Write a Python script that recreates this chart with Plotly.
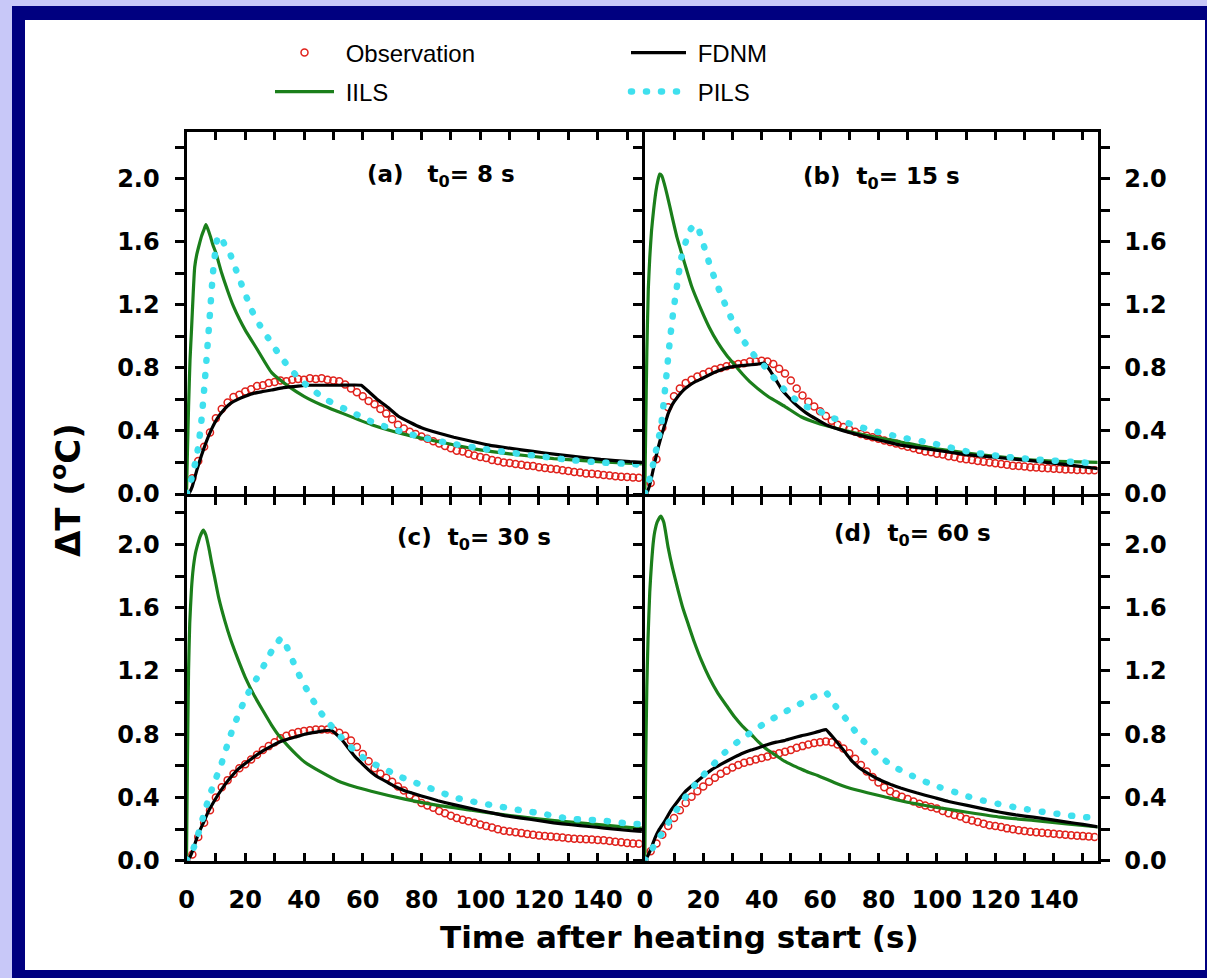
import plotly.graph_objects as go
from plotly.subplots import make_subplots

W, H = 1207, 978

# ---------------- data ----------------
obs_t = list(range(0, 156, 2))

obs_a = [0.00, 0.10, 0.21, 0.30, 0.39, 0.48, 0.54, 0.58, 0.615, 0.63,
         0.65, 0.665, 0.685, 0.69, 0.705, 0.71, 0.72, 0.715, 0.725, 0.73,
         0.725, 0.735, 0.73, 0.735, 0.725, 0.72, 0.715, 0.695, 0.67, 0.645,
         0.62, 0.59, 0.57, 0.54, 0.51, 0.475, 0.44, 0.415, 0.395, 0.38,
         0.365, 0.35, 0.335, 0.32, 0.305, 0.29, 0.275, 0.27, 0.255, 0.245,
         0.235, 0.228, 0.215, 0.21, 0.20, 0.197, 0.19, 0.185, 0.18, 0.177,
         0.17, 0.165, 0.16, 0.157, 0.15, 0.146, 0.14, 0.137, 0.13, 0.128,
         0.125, 0.12, 0.118, 0.113, 0.11, 0.108, 0.105, 0.103]

obs_b = [0.00, 0.07, 0.22, 0.42, 0.55, 0.62, 0.67, 0.705, 0.725, 0.745,
         0.76, 0.775, 0.79, 0.80, 0.81, 0.82, 0.825, 0.83, 0.84, 0.84,
         0.845, 0.84, 0.825, 0.795, 0.765, 0.72, 0.67, 0.625, 0.585, 0.555,
         0.525, 0.495, 0.465, 0.44, 0.425, 0.41, 0.395, 0.38, 0.37, 0.36,
         0.35, 0.34, 0.33, 0.32, 0.31, 0.30, 0.29, 0.28, 0.27, 0.265,
         0.255, 0.25, 0.24, 0.235, 0.225, 0.22, 0.215, 0.21, 0.205, 0.20,
         0.195, 0.19, 0.185, 0.18, 0.178, 0.175, 0.17, 0.168, 0.165, 0.163,
         0.16, 0.158, 0.156, 0.155, 0.153, 0.152, 0.15, 0.15]

obs_c = [0.00, 0.04, 0.15, 0.24, 0.32, 0.40, 0.465, 0.51, 0.55, 0.585,
         0.61, 0.64, 0.67, 0.70, 0.725, 0.75, 0.775, 0.79, 0.805, 0.815,
         0.82, 0.825, 0.83, 0.83, 0.83, 0.825, 0.81, 0.79, 0.76, 0.72,
         0.675, 0.63, 0.585, 0.55, 0.525, 0.50, 0.47, 0.445, 0.415, 0.39,
         0.365, 0.35, 0.335, 0.315, 0.30, 0.285, 0.27, 0.26, 0.25, 0.24,
         0.23, 0.22, 0.21, 0.20, 0.19, 0.185, 0.18, 0.175, 0.17, 0.165,
         0.16, 0.157, 0.153, 0.15, 0.147, 0.143, 0.14, 0.138, 0.136, 0.134,
         0.132, 0.13, 0.125, 0.12, 0.117, 0.113, 0.11, 0.108]

obs_d = [0.00, 0.06, 0.11, 0.165, 0.22, 0.27, 0.32, 0.365, 0.405, 0.44,
         0.47, 0.50, 0.525, 0.55, 0.57, 0.59, 0.605, 0.62, 0.63, 0.64,
         0.65, 0.66, 0.67, 0.68, 0.69, 0.70, 0.715, 0.725, 0.735, 0.745,
         0.75, 0.755, 0.75, 0.735, 0.71, 0.68, 0.645, 0.605, 0.565, 0.53,
         0.495, 0.465, 0.44, 0.42, 0.405, 0.39, 0.375, 0.36, 0.35, 0.34,
         0.33, 0.315, 0.30, 0.29, 0.28, 0.265, 0.255, 0.245, 0.235, 0.225,
         0.22, 0.213, 0.205, 0.20, 0.193, 0.188, 0.183, 0.18, 0.177, 0.174,
         0.171, 0.168, 0.165, 0.162, 0.159, 0.156, 0.153, 0.15]

# IILS
iils_a_t = [0, 0.3, 0.7, 1.2, 1.7, 2.3, 2.8, 3.5, 4.3, 5.2, 6, 6.6, 7.3, 8.2, 9, 10, 12, 14, 16, 18, 20,
            24, 29, 35, 40, 46, 52, 63, 74, 85, 100, 110, 125, 140, 156]
iils_a_v = [0, 0.25, 0.55, 0.85, 1.04, 1.28, 1.44, 1.52, 1.58, 1.64, 1.68, 1.71, 1.68, 1.63, 1.58, 1.53,
            1.40, 1.29, 1.19, 1.11, 1.04, 0.92, 0.77, 0.68, 0.62, 0.565, 0.52, 0.44, 0.38, 0.335, 0.28,
            0.255, 0.225, 0.205, 0.19]
iils_b_t = [0, 0.3, 0.7, 1.2, 1.7, 2.3, 3, 3.8, 4.5, 5.1, 5.8, 6.8, 8, 9.1, 11, 13.7, 16, 19.3, 22, 25,
            28, 30.7, 33.5, 36.4, 42.1, 48, 53.5, 59, 64.8, 76.2, 87.6, 99, 110.4, 121.7, 133, 145, 155.5]
iils_b_v = [0, 0.4, 0.9, 1.3, 1.5, 1.67, 1.8, 1.92, 1.99, 2.03, 2.02, 1.96, 1.87, 1.78, 1.63, 1.46, 1.32,
            1.17, 1.06, 0.96, 0.88, 0.82, 0.76, 0.705, 0.62, 0.555, 0.49, 0.45, 0.42, 0.37, 0.33, 0.29,
            0.26, 0.235, 0.215, 0.205, 0.2]
iils_c_t = [0, 0.3, 0.7, 1.1, 1.7, 2.3, 3, 3.8, 4.6, 5.7, 6.6, 7.6, 8.6, 9.6, 11, 13, 15, 17.6, 20, 23.2,
            26, 28.9, 31.5, 34.6, 37.5, 40.2, 45.9, 51.6, 57, 62.9, 74.3, 85.6, 97, 108.3, 119.6, 131,
            142.3, 151.4, 156]
iils_c_v = [0, 0.6, 1.2, 1.5, 1.72, 1.85, 1.94, 2.0, 2.05, 2.09, 2.06, 1.98, 1.88, 1.79, 1.66, 1.52, 1.40,
            1.27, 1.16, 1.04, 0.95, 0.86, 0.79, 0.725, 0.67, 0.625, 0.56, 0.505, 0.47, 0.44, 0.39, 0.35,
            0.32, 0.29, 0.265, 0.245, 0.225, 0.21, 0.205]
iils_d_t = [0, 0.3, 0.7, 1.1, 1.7, 2.3, 3, 3.4, 4.2, 5.5, 6.5, 8, 9.5, 11.4, 13, 14.8, 17, 19.3, 22, 25,
            28, 30.7, 33.5, 36.4, 39, 42.1, 45, 47.8, 50.5, 53.5, 56, 59.2, 64.8, 70, 76.2, 82, 87.6, 93,
            99, 110.4, 121.7, 133, 144.5, 155.5]
iils_d_v = [0, 0.6, 1.1, 1.4, 1.7, 1.88, 2.03, 2.08, 2.14, 2.18, 2.14, 1.98, 1.85, 1.71, 1.60, 1.50, 1.38,
            1.27, 1.16, 1.06, 0.98, 0.91, 0.85, 0.80, 0.75, 0.70, 0.665, 0.63, 0.605, 0.58, 0.56, 0.54,
            0.495, 0.46, 0.43, 0.405, 0.38, 0.36, 0.34, 0.307, 0.276, 0.255, 0.234, 0.213]

# FDNM
fdnm_a_t = [0, 1, 2, 3.5, 5, 6.5, 8.5, 10.5, 13, 15, 17.5, 20, 23, 26, 29, 33, 38, 42, 46, 52, 59.5, 62,
            65, 68.5, 72, 76, 80, 86, 91, 97, 103, 114, 122, 131, 141, 151, 156]
fdnm_a_v = [0, 0.01, 0.05, 0.15, 0.24, 0.32, 0.41, 0.48, 0.54, 0.575, 0.60, 0.62, 0.64, 0.65, 0.66, 0.675,
            0.685, 0.69, 0.69, 0.69, 0.69, 0.65, 0.60, 0.55, 0.495, 0.455, 0.42, 0.385, 0.36, 0.335, 0.31,
            0.28, 0.26, 0.24, 0.22, 0.205, 0.2]
fdnm_b_t = [0, 1, 2, 3.4, 4.5, 5.7, 7, 8, 9.5, 11.4, 13, 15, 17, 19.3, 22, 25, 28, 30.7, 33.5, 36.4, 39,
            41, 43, 45.5, 47, 48.9, 51, 53.5, 56, 59.2, 62, 64.8, 70, 76.2, 82, 87.6, 93, 99, 110, 121.7,
            133, 145, 155.5]
fdnm_b_v = [0, 0.02, 0.08, 0.2, 0.29, 0.37, 0.45, 0.51, 0.57, 0.62, 0.655, 0.685, 0.71, 0.73, 0.755, 0.78,
            0.80, 0.81, 0.815, 0.82, 0.825, 0.83, 0.78, 0.705, 0.66, 0.62, 0.58, 0.54, 0.505, 0.47, 0.44,
            0.42, 0.39, 0.36, 0.335, 0.31, 0.295, 0.28, 0.25, 0.23, 0.21, 0.185, 0.16]
fdnm_c_t = [0, 1, 2, 4, 5.5, 7.4, 9.5, 11.9, 14.5, 17.6, 20, 23.2, 26, 28.9, 31.5, 34.6, 37.5, 40.2, 43,
            45.9, 49.3, 51, 52.7, 55, 57.3, 60, 62.9, 65.5, 68.6, 71, 74.3, 80, 85.6, 91, 97, 102, 108.3,
            114, 119.6, 125, 131, 137, 142.3, 151.4, 156]
fdnm_c_v = [0, 0.02, 0.06, 0.17, 0.23, 0.31, 0.38, 0.45, 0.515, 0.58, 0.615, 0.66, 0.695, 0.725, 0.75,
            0.77, 0.785, 0.80, 0.81, 0.82, 0.825, 0.80, 0.77, 0.715, 0.66, 0.61, 0.56, 0.525, 0.495, 0.47,
            0.443, 0.41, 0.38, 0.355, 0.33, 0.31, 0.286, 0.27, 0.255, 0.24, 0.228, 0.217, 0.207, 0.19,
            0.185]
fdnm_d_t = [0, 1, 2, 3.4, 5, 6.8, 9, 11.4, 14, 17.1, 20, 22.8, 26, 30.7, 33.5, 36.4, 39, 42.1, 45, 47.8,
            50.5, 53.5, 56, 58, 60, 62, 64, 66, 68, 70.5, 73, 76.2, 79, 81.9, 84.5, 87.6, 93, 99, 104,
            110.4, 116, 121.7, 127, 133, 139, 144.5, 150, 155.5]
fdnm_d_v = [0, 0.03, 0.07, 0.14, 0.2, 0.25, 0.32, 0.38, 0.44, 0.49, 0.535, 0.575, 0.61, 0.655, 0.68, 0.70,
            0.715, 0.735, 0.75, 0.76, 0.775, 0.79, 0.80, 0.81, 0.82, 0.83, 0.79, 0.746, 0.70, 0.64, 0.595,
            0.555, 0.525, 0.50, 0.48, 0.46, 0.43, 0.40, 0.375, 0.35, 0.328, 0.307, 0.29, 0.276, 0.26,
            0.245, 0.23, 0.213]

# PILS
pils_a_t = [0, 1, 2, 3, 4, 5, 6, 7, 8, 9, 10, 10.8, 12, 13, 14.7, 16.5, 18.1, 20, 22.1, 25, 27.8, 31,
            34.6, 39, 43.7, 48, 53.9, 58.4, 64.1, 69, 74.3, 80, 90, 100, 107, 120, 131, 141, 151, 156]
pils_a_v = [0, 0.05, 0.12, 0.2, 0.3, 0.45, 0.66, 0.9, 1.15, 1.4, 1.57, 1.64, 1.62, 1.58, 1.53, 1.44, 1.36,
            1.27, 1.17, 1.07, 0.99, 0.9, 0.81, 0.72, 0.65, 0.595, 0.54, 0.50, 0.45, 0.42, 0.39, 0.36,
            0.32, 0.29, 0.27, 0.24, 0.215, 0.2, 0.19, 0.185]
pils_b_t = [0, 1.1, 2.3, 3.4, 4.5, 5.7, 6.3, 7.4, 8.5, 9.7, 11.1, 12.5, 14.2, 15.7, 17.1, 18.2, 19.3,
            20.8, 22.5, 24.3, 26.2, 28.3, 30.5, 33.2, 37, 41, 45, 48.9, 54.6, 59.2, 64.8, 69.4, 78.5,
            87.6, 99, 110.4, 121.7, 133, 150, 155.5]
pils_b_v = [0, 0.06, 0.14, 0.24, 0.33, 0.45, 0.55, 0.75, 0.96, 1.15, 1.33, 1.50, 1.61, 1.68, 1.71, 1.69,
            1.63, 1.54, 1.44, 1.35, 1.26, 1.17, 1.08, 0.99, 0.89, 0.81, 0.72, 0.64, 0.56, 0.53, 0.48,
            0.45, 0.40, 0.36, 0.32, 0.27, 0.24, 0.22, 0.20, 0.195]
pils_c_t = [0, 2, 4, 6, 8, 10, 12, 14.7, 16.5, 18.7, 21, 23.8, 26.5, 29.1, 31, 32.3, 33.5, 35.1, 37, 39.5,
            42, 45, 48.5, 52.7, 57, 61.8, 67, 72, 77, 82.2, 87, 91.3, 96, 101.5, 106, 110.5, 115, 120.7,
            126, 131, 136, 141.2, 146, 151.4, 156]
pils_c_v = [0, 0.06, 0.17, 0.3, 0.42, 0.52, 0.62, 0.78, 0.87, 0.97, 1.06, 1.15, 1.24, 1.33, 1.38, 1.41,
            1.38, 1.31, 1.23, 1.13, 1.05, 0.955, 0.87, 0.78, 0.70, 0.63, 0.585, 0.537, 0.50, 0.464, 0.43,
            0.40, 0.38, 0.36, 0.345, 0.33, 0.315, 0.30, 0.28, 0.265, 0.26, 0.255, 0.245, 0.234, 0.23]
pils_d_t = [0, 2, 4, 6.8, 9, 11.9, 15, 18.8, 23, 27.3, 32, 37, 42, 47.2, 52, 56.9, 60, 62, 63.5, 65.4,
            67, 69.2, 71, 72.8, 75, 77.4, 79.5, 81.9, 84, 86.5, 89, 91.6, 94, 96.7, 101, 106.4, 111, 116,
            121, 126.3, 131, 136, 141, 145.6, 150.7, 155.5]
pils_d_v = [0, 0.06, 0.12, 0.2, 0.27, 0.35, 0.43, 0.516, 0.60, 0.683, 0.755, 0.82, 0.88, 0.934, 0.98,
            1.03, 1.05, 1.064, 1.03, 0.976, 0.94, 0.89, 0.845, 0.80, 0.755, 0.715, 0.675, 0.64, 0.61,
            0.583, 0.56, 0.537, 0.515, 0.495, 0.465, 0.433, 0.405, 0.38, 0.36, 0.34, 0.325, 0.31, 0.298,
            0.286, 0.276, 0.27]

panel_labels = ["(a)&nbsp;&nbsp; t<sub>0</sub>= 8 s", "(b)&nbsp; t<sub>0</sub>= 15 s",
                "(c)&nbsp; t<sub>0</sub>= 30 s", "(d)&nbsp; t<sub>0</sub>= 60 s"]
series_names = ["Observation", "IILS", "FDNM", "PILS"]

# ---------------- styles ----------------
RED = "#e0221c"
GREEN = "#1b7f1b"
CYAN = "#3fe0ee"
BLACK = "#000000"
TICKFONT = dict(family="DejaVu Sans", size=24, color="black", weight="bold")
LEGFONT = dict(family="Liberation Sans, Arial", size=24, color="black")
NB = "\u00a0"

fig = make_subplots(rows=2, cols=2, horizontal_spacing=0, vertical_spacing=0)

panels = [
    (1, 1, obs_a, iils_a_t, iils_a_v, fdnm_a_t, fdnm_a_v, pils_a_t, pils_a_v),
    (1, 2, obs_b, iils_b_t, iils_b_v, fdnm_b_t, fdnm_b_v, pils_b_t, pils_b_v),
    (2, 1, obs_c, iils_c_t, iils_c_v, fdnm_c_t, fdnm_c_v, pils_c_t, pils_c_v),
    (2, 2, obs_d, iils_d_t, iils_d_v, fdnm_d_t, fdnm_d_v, pils_d_t, pils_d_v),
]

for i, (r, c, obs, it, iv, ft, fv, pt, pv) in enumerate(panels):
    first = i == 0
    fig.add_trace(go.Scatter(x=obs_t, y=obs, mode="markers", name=NB + series_names[0],
                             marker=dict(symbol="circle-open", size=7, color=RED, line=dict(width=1.5, color=RED)),
                             showlegend=first, legend="legend"), r, c)
    fig.add_trace(go.Scatter(x=it, y=iv, mode="lines", name=NB + series_names[1],
                             line=dict(color=GREEN, width=3.2, shape="spline", smoothing=0.5),
                             showlegend=first, legend="legend2"), r, c)
    fig.add_trace(go.Scatter(x=ft, y=fv, mode="lines", name=NB + series_names[2],
                             line=dict(color=BLACK, width=3.2, shape="spline", smoothing=0.3),
                             showlegend=first, legend="legend3"), r, c)
    fig.add_trace(go.Scatter(x=pt, y=pv, mode="lines", name=NB + series_names[3],
                             line=dict(color=CYAN, width=6.5, dash="1px,14px", shape="spline", smoothing=0.5),
                             showlegend=first, legend="legend4"), r, c)

# ---------------- layout ----------------
LW = 3
xl = [186.5 / W, 641.8 / W]
xr = [644.8 / W, 1097.5 / W]
ytop = [1 - 494 / H, 1 - 131.5 / H]
ybot = [1 - 860.8 / H, 1 - 497 / H]

common_x = dict(range=[0, 155], tickmode="linear", tick0=0, dtick=20, automargin=False,
                ticks="inside", ticklen=8, tickwidth=2.5, tickcolor="black",
                minor=dict(tickmode="linear", tick0=0, dtick=10, ticks="inside", ticklen=8,
                           tickwidth=2.5, tickcolor="black", showgrid=False),
                showline=True, linewidth=LW, linecolor="black", mirror="ticks",
                showgrid=False, zeroline=False, tickfont=TICKFONT, ticklabelstandoff=15)
common_y = dict(range=[0, 2.3], tickmode="linear", tick0=0, dtick=0.4, tickformat=".1f", automargin=False,
                ticks="outside", ticklen=9, tickwidth=2.5, tickcolor="black",
                minor=dict(tickmode="linear", tick0=0, dtick=0.2, ticks="outside", ticklen=9,
                           tickwidth=2.5, tickcolor="black", showgrid=False),
                showline=True, linewidth=LW, linecolor="black",
                showgrid=False, zeroline=False, tickfont=TICKFONT, ticklabelstandoff=10)

fig.update_layout(
    xaxis=dict(common_x, domain=xl, showticklabels=False),
    xaxis2=dict(common_x, domain=xr, showticklabels=False),
    xaxis3=dict(common_x, domain=xl),
    xaxis4=dict(common_x, domain=xr),
    yaxis=dict(common_y, domain=ytop, side="left", mirror=True),
    yaxis2=dict(common_y, domain=ytop, side="right", mirror="ticks"),
    yaxis3=dict(common_y, domain=ybot, side="left", mirror=True),
    yaxis4=dict(common_y, domain=ybot, side="right", mirror="ticks"),
)

leg_common = dict(xanchor="left", yanchor="middle", bgcolor="rgba(0,0,0,0)", borderwidth=0,
                  font=LEGFONT, itemclick=False, itemdoubleclick=False)
fig.update_layout(
    legend=dict(leg_common, x=270 / W, y=1 - 53 / H, itemwidth=59),
    legend2=dict(leg_common, x=270 / W, y=1 - 92 / H, itemwidth=59),
    legend3=dict(leg_common, x=626 / W, y=1 - 53 / H, itemwidth=55),
    legend4=dict(leg_common, x=626 / W, y=1 - 92 / H, itemwidth=55),
)

# frame
fig.add_shape(type="rect", xref="paper", yref="paper", x0=12 / W, x1=1.0, y0=0, y1=1 - 6 / H,
              fillcolor="#000080", line=dict(width=0), layer="below")
fig.add_shape(type="rect", xref="paper", yref="paper", x0=25 / W, x1=1205 / W, y0=1 - 970 / H,
              y1=1 - 20 / H, fillcolor="white", line=dict(width=0), layer="below")

ANNFONT = dict(family="DejaVu Sans", size=23, color="black", weight="bold")
label_pos = [(441, 176), (881, 178), (474, 539), (912, 535)]
for txt, (px, py) in zip(panel_labels, label_pos):
    fig.add_annotation(text=txt, xref="paper", yref="paper", x=px / W, y=1 - py / H,
                       xanchor="center", yanchor="middle", showarrow=False, font=ANNFONT)

fig.add_annotation(text="Time after heating start (s)", xref="paper", yref="paper",
                   x=679 / W, y=1 - 937 / H, xanchor="center", yanchor="middle", showarrow=False,
                   font=dict(family="DejaVu Sans", size=31, color="black", weight="bold"))
fig.add_annotation(text="ΔT (<sup>o</sup>C)", xref="paper", yref="paper",
                   x=66 / W, y=1 - 490 / H, xanchor="center", yanchor="middle", showarrow=False,
                   textangle=-90,
                   font=dict(family="DejaVu Sans", size=34, color="black", weight="bold"))

fig.update_layout(width=W, height=H, autosize=False, margin=dict(l=0, r=0, t=0, b=0, pad=0),
                  paper_bgcolor="#c8c8f8", plot_bgcolor="white")

post = """
var gd = document.getElementById('{plot_id}');
function roundCaps(){
  gd.querySelectorAll('path').forEach(function(p){
    var d = p.style.strokeDasharray;
    if (d && d !== 'none' && d !== '') { p.style.strokeLinecap = 'round'; }
  });
}
roundCaps();
if (gd.on) { gd.on('plotly_afterplot', roundCaps); }
"""

fig.write_html("out.html", post_script=post, config={"displayModeBar": False})
